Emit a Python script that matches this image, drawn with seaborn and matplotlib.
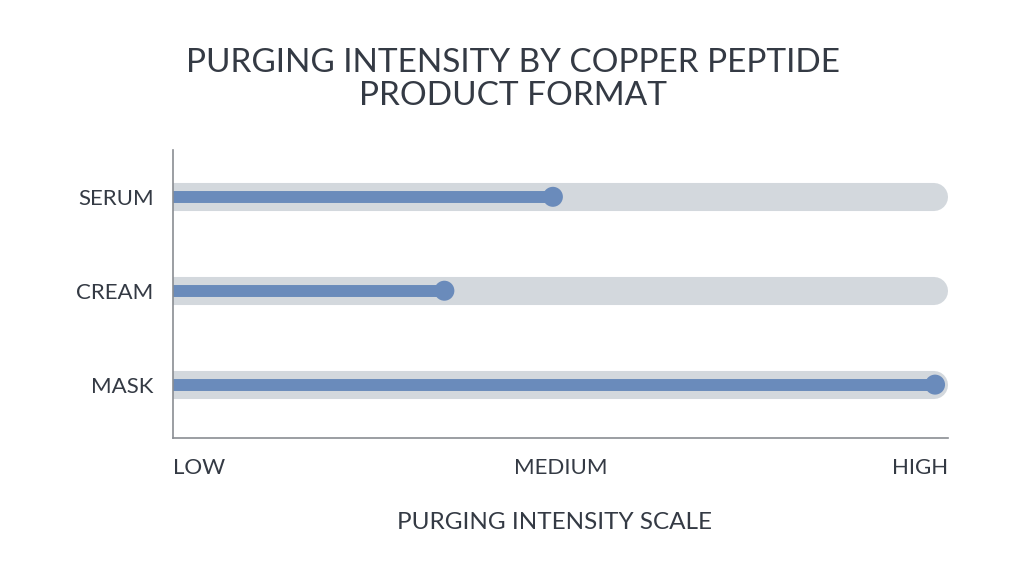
import matplotlib
matplotlib.use("Agg")
import matplotlib.pyplot as plt
import seaborn as sns
import pandas as pd

formats = ["SERUM", "CREAM", "MASK"]
intensity = [4.9, 3.5, 9.83]
scale_ticks = [0, 5, 10]
scale_labels = ["LOW", "MEDIUM", "HIGH"]

sns.set_theme(style="white")
plt.rcParams['font.family'] = ['Lato', 'DejaVu Sans']

df = pd.DataFrame({"format": formats, "intensity": intensity})

text_color = "#343a44"
blue = "#6a8bbb"
track = "#d3d8dd"

fig = plt.figure(figsize=(10.24, 5.72), dpi=100)
ax = fig.add_axes([0.169, 0.234, 0.757, 0.504])

ypos = list(range(len(formats)))
track_end = 10 - 14 / 775 * 10
for y in ypos:
    ax.plot([0, track_end], [y, y], color=track, lw=20.2,
            solid_capstyle="round", zorder=1)
for y, v in zip(ypos, df["intensity"]):
    ax.plot([0, v], [y, y], color=blue, lw=8.6, solid_capstyle="butt", zorder=2)

sns.scatterplot(data=df, x="intensity", y="format", ax=ax, color=blue,
                s=14.4 ** 2, edgecolor="none", zorder=3, legend=False)

ax.set_xlim(0, 10)
ax.set_ylim(2.57, -0.5)
ax.set_yticks(ypos)
ax.set_yticklabels(formats, fontsize=16, color=text_color)
ax.set_xticks(scale_ticks)
ax.set_xticklabels(scale_labels, fontsize=16, color=text_color)
xl = ax.get_xticklabels()
xl[0].set_ha("left")
xl[1].set_ha("center")
xl[2].set_ha("right")
ax.tick_params(axis="both", length=0)
ax.tick_params(axis="y", pad=14)
ax.tick_params(axis="x", pad=14)
ax.set_ylabel("")
ax.set_xlabel("PURGING INTENSITY SCALE", fontsize=17.5, color=text_color)
ax.xaxis.set_label_coords(0.492, -0.255)

for s in ["top", "right"]:
    ax.spines[s].set_visible(False)
for s in ["left", "bottom"]:
    ax.spines[s].set_color("#8a8d92")
    ax.spines[s].set_linewidth(1.2)

fig.suptitle("PURGING INTENSITY BY COPPER PEPTIDE\nPRODUCT FORMAT", x=0.501, y=0.916,
             fontsize=24, color=text_color, linespacing=1.12)

fig.savefig("out.png", dpi=100, facecolor="white")
